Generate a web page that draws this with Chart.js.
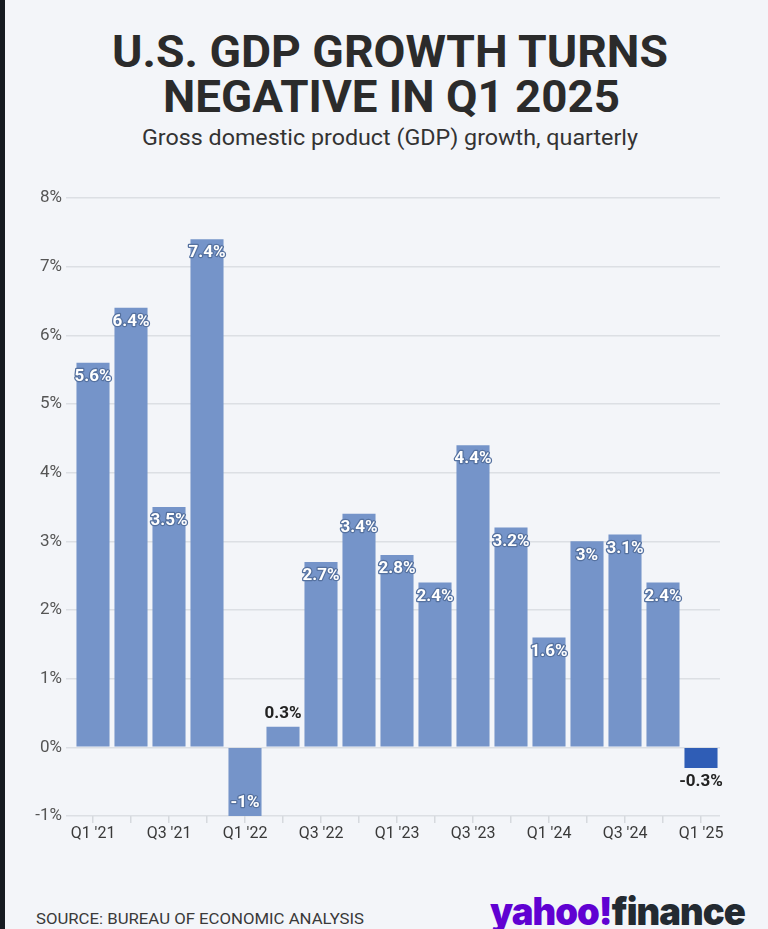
<!DOCTYPE html>
<html>
<head>
<meta charset="utf-8">
<script src="https://cdn.jsdelivr.net/npm/chart.js@4.4.1/dist/chart.umd.min.js"></script>
<style>
  html, body { margin: 0; padding: 0; }
  body { width: 768px; height: 929px; background: #f3f5f9; position: relative; overflow: hidden; font-family: Roboto, "Noto Sans", sans-serif; }
  #strip { position: absolute; left: 0; top: 0; width: 5px; height: 929px; background: #161b21; }
  .fit { position: absolute; white-space: nowrap; transform-origin: left top; }
  #t1, #t2 { font-weight: 700; font-size: 44px; line-height: 44px; color: #2b2b2b; }
  #sub { font-size: 22px; line-height: 24px; color: #333; }
  #src { font-size: 15px; line-height: 18px; color: #3a3a3a; }
  #logo { font-family: Inter, Roboto, sans-serif; font-weight: 900; font-size: 38px; line-height: 40px; letter-spacing: -1px; }
  #logo .y { color: #6001d2; }
  #logo .f { color: #232a31; }
  #wrap { position: absolute; left: 0; top: 180px; width: 768px; height: 680px; }
</style>
</head>
<body>
<div id="strip"></div>
<div id="t1" class="fit" data-x="112" data-y="30" data-w="556">U.S. GDP GROWTH TURNS</div>
<div id="t2" class="fit" data-x="163" data-y="75" data-w="457">NEGATIVE IN Q1 2025</div>
<div id="sub" class="fit" data-x="142" data-y="126" data-w="496">Gross domestic product (GDP) growth, quarterly</div>
<div id="src" class="fit" data-x="36" data-y="910" data-w="328">SOURCE: BUREAU OF ECONOMIC ANALYSIS</div>
<div id="logo" class="fit" data-x="490" data-y="891" data-w="255"><span class="y">yahoo!</span><span class="f">finance</span></div>
<div id="wrap"><canvas id="c"></canvas></div>
<script>
const quarters = ["Q1 '21","Q2 '21","Q3 '21","Q4 '21","Q1 '22","Q2 '22","Q3 '22","Q4 '22","Q1 '23","Q2 '23","Q3 '23","Q4 '23","Q1 '24","Q2 '24","Q3 '24","Q4 '24","Q1 '25"];
const gdpGrowth = [5.6, 6.4, 3.5, 7.4, -1, 0.3, 2.7, 3.4, 2.8, 2.4, 4.4, 3.2, 1.6, 3, 3.1, 2.4, -0.3];
const valueLabels = ["5.6%","6.4%","3.5%","7.4%","-1%","0.3%","2.7%","3.4%","2.8%","2.4%","4.4%","3.2%","1.6%","3%","3.1%","2.4%","-0.3%"];
const yTicks = [-1, 0, 1, 2, 3, 4, 5, 6, 7, 8];

// fit header/footer text widths
document.querySelectorAll('.fit').forEach(el => {
  el.style.left = el.dataset.x + 'px';
  el.style.top = el.dataset.y + 'px';
  const w = el.getBoundingClientRect().width;
  el.style.transform = 'scaleX(' + (parseFloat(el.dataset.w) / w) + ')';
});

const barColors = gdpGrowth.map((v, i) => i === gdpGrowth.length - 1 ? '#2f5db6' : '#7594c9');

const labelPlugin = {
  id: 'valueLabels',
  afterDatasetsDraw(chart) {
    const ctx = chart.ctx;
    const meta = chart.getDatasetMeta(0);
    ctx.save();
    ctx.font = 'bold 17px Roboto, sans-serif';
    ctx.textAlign = 'center';
    ctx.textBaseline = 'middle';
    ctx.lineJoin = 'round';
    meta.data.forEach((bar, i) => {
      const v = gdpGrowth[i];
      const txt = valueLabels[i];
      const small = Math.abs(v) < 0.5;
      let y;
      if (v >= 0) y = small ? bar.y - 13 : bar.y + 14;
      else y = small ? bar.y + 14 : bar.y - 13;
      if (small) {
        ctx.fillStyle = '#222';
        ctx.fillText(txt, bar.x, y);
      } else {
        ctx.lineWidth = 2.5;
        ctx.strokeStyle = '#55719f';
        ctx.strokeText(txt, bar.x, y);
        ctx.fillStyle = '#ffffff';
        ctx.fillText(txt, bar.x, y);
      }
    });
    ctx.restore();
  }
};

new Chart(document.getElementById('c'), {
  type: 'bar',
  data: {
    labels: quarters,
    datasets: [{
      data: gdpGrowth,
      backgroundColor: barColors,
      borderWidth: 0,
      categoryPercentage: 1.0,
      barPercentage: 0.87
    }]
  },
  options: {
    responsive: true,
    maintainAspectRatio: false,
    animation: false,
    layout: { padding: { top: 18, right: 48, bottom: 8, left: 0 } },
    plugins: { legend: { display: false }, tooltip: { enabled: false } },
    scales: {
      y: {
        min: -1, max: 8,
        afterBuildTicks(scale) { scale.ticks = yTicks.map(v => ({ value: v })); },
        afterFit(scale) { scale.width = 74; },
        border: { display: false },
        grid: { color: '#dcdfe4', lineWidth: 1.5, tickLength: 8, drawTicks: true, tickColor: '#dcdfe4' },
        ticks: {
          padding: 4,
          color: '#555',
          font: { family: 'Roboto, sans-serif', size: 17 },
          callback: v => v + '%'
        }
      },
      x: {
        afterFit(scale) { scale.height = 36; },
        border: { display: false },
        grid: { offset: false, drawOnChartArea: false, drawTicks: true, tickLength: 7, color: '#d6d9de', lineWidth: 1.5 },
        ticks: {
          autoSkip: false,
          maxRotation: 0,
          padding: 1,
          color: '#3a3a3a',
          font: { family: 'Roboto, sans-serif', size: 16 },
          callback: (v, i) => i % 2 === 0 ? quarters[i] : ''
        }
      }
    }
  },
  plugins: [labelPlugin]
});
</script>
</body>
</html>
